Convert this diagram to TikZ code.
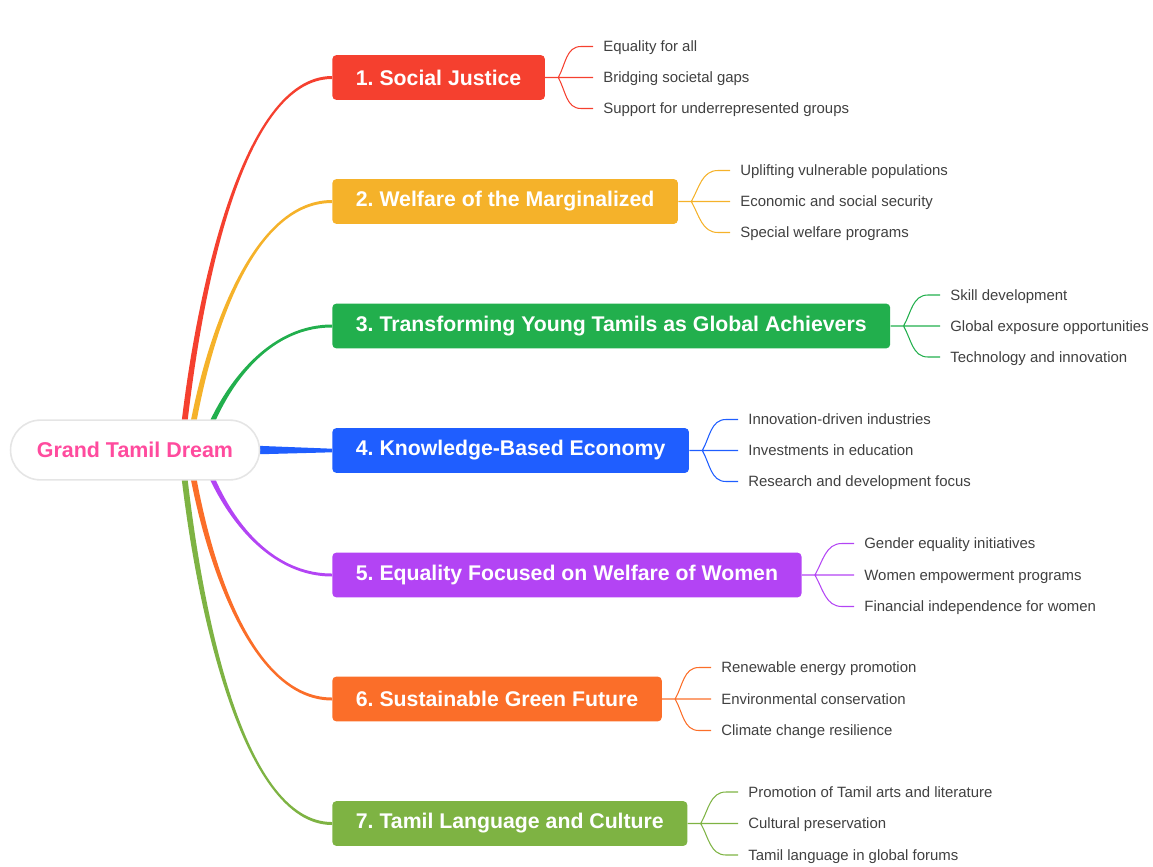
\documentclass[tikz,border=0pt]{standalone}
\usepackage{fontspec}
\setmainfont{Liberation Sans}
\usetikzlibrary{calc,backgrounds}
\frenchspacing

\definecolor{dreampink}{HTML}{FF4B9E}
\definecolor{justicered}{HTML}{F5402F}
\definecolor{welfareamber}{HTML}{F5B22A}
\definecolor{youthgreen}{HTML}{22AF4D}
\definecolor{knowblue}{HTML}{1F5EFF}
\definecolor{womenviolet}{HTML}{B344F4}
\definecolor{futureorange}{HTML}{FB6E29}
\definecolor{culturelime}{HTML}{7EB343}
\definecolor{leafgray}{HTML}{404040}

\tikzset{
  hub/.style={draw=black!10, line width=0.9pt, fill=white, rounded corners=17pt,
    minimum width=141.7pt, minimum height=34pt, text=dreampink,
    font=\fontsize{12.2}{14}\selectfont\bfseries},
  topic/.style={fill=#1, text=white, anchor=west, rounded corners=2.3pt,
    minimum height=25.5pt, inner xsep=13.4pt,
    font=\fontsize{12.1}{14}\selectfont\bfseries},
  leaf/.style={anchor=west, inner xsep=5.7pt, inner ysep=0pt, text=leafgray,
    text height=7.6pt, text depth=1.6pt, font=\fontsize{8.5}{10}\selectfont},
  twig/.style={draw=#1, line width=0.6pt},
  limb/.style={to path={let \p1=(\tikztostart), \p2=(\tikztotarget) in
      ({\x1-1.7pt},\y1)
      .. controls ({\x1+6.8pt},{\y1+0.41*(\y2-\y1)}) and ({\x1+34pt},{\y2+(#1)*0.85pt}) .. (\x2,{\y2+(#1)*0.85pt})
      -- (\x2,{\y2-(#1)*0.85pt})
      .. controls ({\x1+34pt},{\y2-(#1)*0.85pt}) and ({\x1+10.2pt},{\y1+0.41*(\y2-\y1)}) .. ({\x1+1.7pt},\y1)
      -- cycle}}
}

\begin{document}
\begin{tikzpicture}[x=0.02cm,y=-0.02cm]
  \useasboundingbox (0,0) rectangle (1153,866);

  % root and main topics
  \node[hub] (dream) at (135,450) {Grand Tamil Dream};
  \node[topic=justicered] (b1) at (332,77.5) {1. Social Justice};
  \node[topic=welfareamber] (b2) at (332,201.5) {2. Welfare of the Marginalized};
  \node[topic=youthgreen] (b3) at (332,326) {3. Transforming Young Tamils as Global Achievers};
  \node[topic=knowblue] (b4) at (332,450.5) {4. Knowledge-Based Economy};
  \node[topic=womenviolet] (b5) at (332,575) {5. Equality Focused on Welfare of Women};
  \node[topic=futureorange] (b6) at (332,699) {6. Sustainable Green Future};
  \node[topic=culturelime] (b7) at (332,823.5) {7. Tamil Language and Culture};

  % leaves
  \node[leaf] (l11) at (593,46.5) {Equality for all};
  \node[leaf] (l12) at (593,77.5) {Bridging societal gaps};
  \node[leaf] (l13) at (593,108.5) {Support for underrepresented groups};
  \node[leaf] (l21) at (730,170.5) {Uplifting vulnerable populations};
  \node[leaf] (l22) at (730,201.5) {Economic and social security};
  \node[leaf] (l23) at (730,232.5) {Special welfare programs};
  \node[leaf] (l31) at (940,295) {Skill development};
  \node[leaf] (l32) at (940,326) {Global exposure opportunities};
  \node[leaf] (l33) at (940,357) {Technology and innovation};
  \node[leaf] (l41) at (738,419.5) {Innovation-driven industries};
  \node[leaf] (l42) at (738,450.5) {Investments in education};
  \node[leaf] (l43) at (738,481.5) {Research and development focus};
  \node[leaf] (l51) at (854,543.5) {Gender equality initiatives};
  \node[leaf] (l52) at (854,575) {Women empowerment programs};
  \node[leaf] (l53) at (854,606.5) {Financial independence for women};
  \node[leaf] (l61) at (711,667.5) {Renewable energy promotion};
  \node[leaf] (l62) at (711,699) {Environmental conservation};
  \node[leaf] (l63) at (711,730.5) {Climate change resilience};
  \node[leaf] (l71) at (738,792) {Promotion of Tamil arts and literature};
  \node[leaf] (l72) at (738,823.5) {Cultural preservation};
  \node[leaf] (l73) at (738,855) {Tamil language in global forums};

  \begin{scope}[on background layer]
    \coordinate (s1) at (181,455);
    \coordinate (s2) at (188,455);
    \coordinate (s3) at (200,455);
    \coordinate (s5) at (200,445);
    \coordinate (s6) at (188,445);
    \coordinate (s7) at (181,445);
    \fill[justicered, limb=1] (s1) to (b1.west);
    \fill[welfareamber, limb=1] (s2) to (b2.west);
    \fill[youthgreen, limb=1] (s3) to (b3.west);
    \fill[knowblue] ($(dream.east)+(-10,-4.5)$) -- ($(b4.west)+(0,-1.8)$)
      -- ($(b4.west)+(0,1.8)$) -- ($(dream.east)+(-10,4.5)$) -- cycle;
    \fill[womenviolet, limb=-1] (s5) to (b5.west);
    \fill[futureorange, limb=-1] (s6) to (b6.west);
    \fill[culturelime, limb=-1] (s7) to (b7.west);
  \end{scope}

  % leaf connectors
  \draw[twig=justicered] (b1.east) -- ++(13,0) coordinate (j1)
    to[out=60,in=180] ($(l11.west)+(-12,0)$) -- (l11.west)
    (j1) -- (l12.west)
    (j1) to[out=-60,in=180] ($(l13.west)+(-12,0)$) -- (l13.west);
  \draw[twig=welfareamber] (b2.east) -- ++(13,0) coordinate (j2)
    to[out=60,in=180] ($(l21.west)+(-12,0)$) -- (l21.west)
    (j2) -- (l22.west)
    (j2) to[out=-60,in=180] ($(l23.west)+(-12,0)$) -- (l23.west);
  \draw[twig=youthgreen] (b3.east) -- ++(13,0) coordinate (j3)
    to[out=60,in=180] ($(l31.west)+(-12,0)$) -- (l31.west)
    (j3) -- (l32.west)
    (j3) to[out=-60,in=180] ($(l33.west)+(-12,0)$) -- (l33.west);
  \draw[twig=knowblue] (b4.east) -- ++(13,0) coordinate (j4)
    to[out=60,in=180] ($(l41.west)+(-12,0)$) -- (l41.west)
    (j4) -- (l42.west)
    (j4) to[out=-60,in=180] ($(l43.west)+(-12,0)$) -- (l43.west);
  \draw[twig=womenviolet] (b5.east) -- ++(13,0) coordinate (j5)
    to[out=60,in=180] ($(l51.west)+(-12,0)$) -- (l51.west)
    (j5) -- (l52.west)
    (j5) to[out=-60,in=180] ($(l53.west)+(-12,0)$) -- (l53.west);
  \draw[twig=futureorange] (b6.east) -- ++(13,0) coordinate (j6)
    to[out=60,in=180] ($(l61.west)+(-12,0)$) -- (l61.west)
    (j6) -- (l62.west)
    (j6) to[out=-60,in=180] ($(l63.west)+(-12,0)$) -- (l63.west);
  \draw[twig=culturelime] (b7.east) -- ++(13,0) coordinate (j7)
    to[out=60,in=180] ($(l71.west)+(-12,0)$) -- (l71.west)
    (j7) -- (l72.west)
    (j7) to[out=-60,in=180] ($(l73.west)+(-12,0)$) -- (l73.west);
\end{tikzpicture}
\end{document}
